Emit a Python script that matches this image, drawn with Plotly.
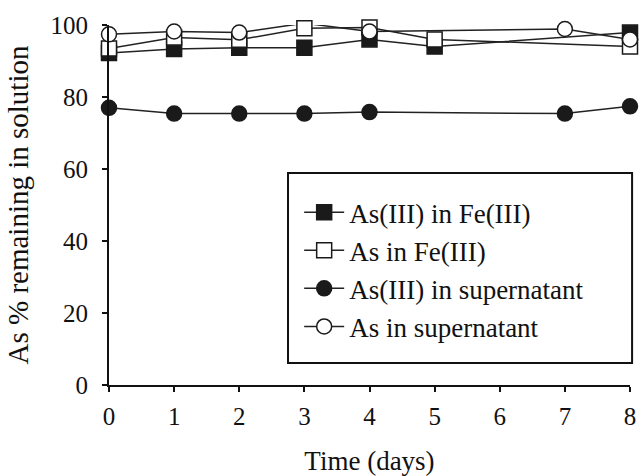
import plotly.graph_objects as go

days_sq = [0, 1, 2, 3, 4, 5, 8]
as3_fe = [92.2, 93.3, 93.7, 93.7, 96.0, 94.0, 97.9]
as_fe = [93.5, 96.5, 95.9, 99.1, 99.3, 96.0, 94.0]

days_ci = [0, 1, 2, 3, 4, 7, 8]
as3_sup = [77.0, 75.4, 75.4, 75.4, 75.8, 75.4, 77.4]
as_sup = [97.4, 98.2, 97.9, 100.5, 98.2, 98.9, 96.0]

x_ticks = [0, 1, 2, 3, 4, 5, 6, 7, 8]
y_ticks = [0, 20, 40, 60, 80, 100]

FONT = "Liberation Serif"
LINE = "#222222"

series = [
    ("As(III) in Fe(III)", days_sq, as3_fe, "square", "#1a1a1a"),
    ("As in Fe(III)", days_sq, as_fe, "square", "white"),
    ("As(III) in supernatant", days_ci, as3_sup, "circle", "#1a1a1a"),
    ("As in supernatant", days_ci, as_sup, "circle", "white"),
]

fig = go.Figure()
for i, (name, xs, ys, sym, fill) in enumerate(series):
    fig.add_trace(go.Scatter(
        x=xs, y=ys, name=name, mode="lines+markers",
        line=dict(color=LINE, width=1.5),
        marker=dict(symbol=sym, size=15, color=fill,
                    line=dict(color="#1a1a1a", width=1.5)),
        cliponaxis=False, legendgroup=f"g{i}",
    ))

fig.update_layout(
    width=642, height=476,
    margin=dict(l=109, r=12, t=25, b=91),
    paper_bgcolor="white", plot_bgcolor="white",
    font=dict(family=FONT, color="#111111", size=25),
    showlegend=True,
    legend=dict(x=0.365, y=0.547, xanchor="left", yanchor="top",
                bgcolor="rgba(0,0,0,0)", borderwidth=0,
                font=dict(family=FONT, size=27, color="#111111"),
                tracegroupgap=0, itemwidth=40),
    shapes=[dict(type="rect", xref="paper", yref="paper",
                 x0=0.3436, x1=1.004, y0=0.061, y1=0.589,
                 line=dict(color="#111111", width=2), fillcolor="rgba(0,0,0,0)")],
)
fig.update_xaxes(
    range=[0, 8], tickvals=x_ticks, ticks="outside", ticklen=5, tickwidth=1.5,
    tickcolor="#111111", showline=True, linecolor="#111111", linewidth=2,
    showgrid=False, zeroline=False, ticklabelstandoff=3, automargin=False,
    tickfont=dict(family=FONT, size=25),
    title=dict(text="Time (days)", font=dict(family=FONT, size=27), standoff=22),
)
fig.update_yaxes(
    range=[0, 100], tickvals=y_ticks, ticks="outside", ticklen=5, tickwidth=1.5,
    tickcolor="#111111", showline=True, linecolor="#111111", linewidth=2,
    showgrid=False, zeroline=False, ticklabelstandoff=9, automargin=False,
    tickfont=dict(family=FONT, size=25),
    title=dict(text="As % remaining in solution", font=dict(family=FONT, size=29), standoff=13),
)

fig.write_html(
    "out.html",
    config={"displayModeBar": False},
    post_script="document.body.style.margin='0';document.body.style.overflow='hidden';",
)
